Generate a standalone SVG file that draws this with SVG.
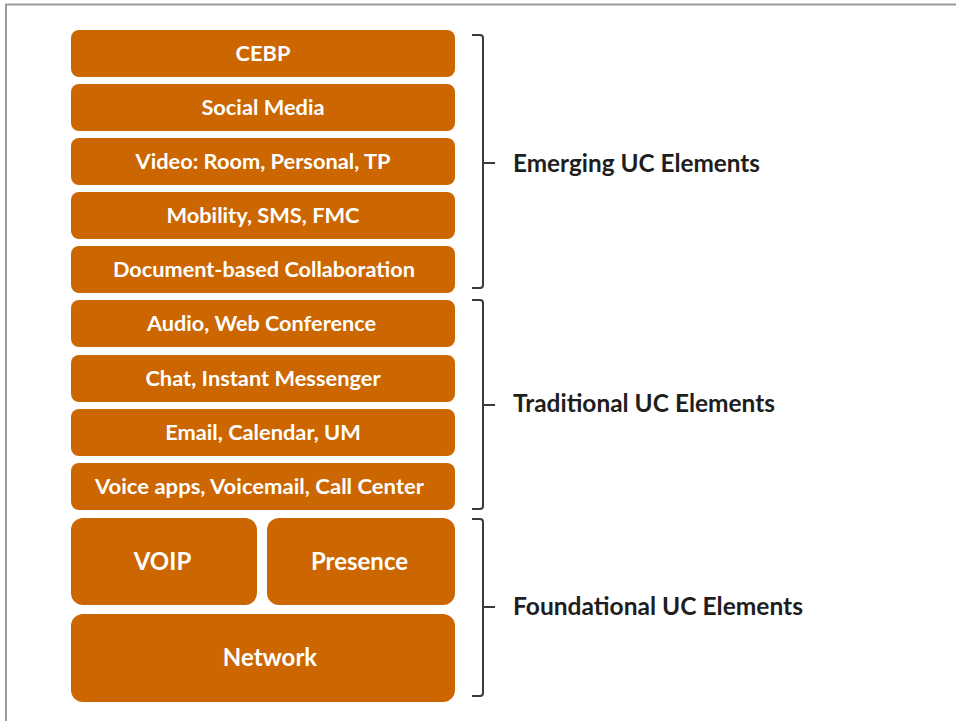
<svg xmlns="http://www.w3.org/2000/svg" width="956" height="721" viewBox="0 0 956 721">
<style>
.box{fill:#CC6600;}
.bt{font-family:Lato,"Open Sans","Liberation Sans",sans-serif;font-weight:bold;font-size:21.8px;fill:#FFFFFF;text-anchor:middle;}
.bb{font-size:24px;}
.lt{font-family:Lato,"Open Sans","Liberation Sans",sans-serif;font-weight:bold;font-size:24.4px;fill:#1E1E1E;}
.br{fill:none;stroke:#3A3A3A;stroke-width:2;}
</style>
<rect x="0" y="0" width="956" height="721" fill="#FFFFFF"/>
<path d="M6 721 V4.5 H956" fill="none" stroke="#9A9A9A" stroke-width="2"/>
<g id="n-cebp"><rect class="box" x="71" y="30" width="384" height="47" rx="8"/><text class="bt" x="263" y="61">CEBP</text></g>
<g id="n-social"><rect class="box" x="71" y="84" width="384" height="47" rx="8"/><text class="bt" x="263" y="115">Social Media</text></g>
<g id="n-video"><rect class="box" x="71" y="138" width="384" height="47" rx="8"/><text class="bt" x="263" y="169">Video: Room, Personal, TP</text></g>
<g id="n-mobility"><rect class="box" x="71" y="192" width="384" height="47" rx="8"/><text class="bt" x="263" y="223">Mobility, SMS, FMC</text></g>
<g id="n-document"><rect class="box" x="71" y="246" width="384" height="47" rx="8"/><text class="bt" x="264" y="277" textLength="302" lengthAdjust="spacingAndGlyphs">Document-based Collaboration</text></g>
<g id="n-audio"><rect class="box" x="71" y="300" width="384" height="47" rx="8"/><text class="bt" x="261.5" y="331" textLength="229" lengthAdjust="spacingAndGlyphs">Audio, Web Conference</text></g>
<g id="n-chat"><rect class="box" x="71" y="355" width="384" height="47" rx="8"/><text class="bt" x="263" y="386">Chat, Instant Messenger</text></g>
<g id="n-email"><rect class="box" x="71" y="409" width="384" height="47" rx="8"/><text class="bt" x="263" y="440">Email, Calendar, UM</text></g>
<g id="n-voice"><rect class="box" x="71" y="463" width="384" height="47" rx="8"/><text class="bt" x="259.5" y="494" textLength="329" lengthAdjust="spacingAndGlyphs">Voice apps, Voicemail, Call Center</text></g>
<g id="n-voip"><rect class="box" x="71" y="518" width="186" height="87" rx="12"/><text class="bt bb" x="162.5" y="570">VOIP</text></g>
<g id="n-presence"><rect class="box" x="267" y="518" width="188" height="87" rx="12"/><text class="bt bb" x="359.5" y="570">Presence</text></g>
<g id="n-network"><rect class="box" x="71" y="614" width="384" height="88" rx="12"/><text class="bt bb" x="270" y="666">Network</text></g>
<g id="connectors">
<path class="br" d="M472 35 H480 Q483 35 483 38 V285 Q483 288 480 288 H472 M483 163 H495"/>
<path class="br" d="M472 300 H480 Q483 300 483 303 V506 Q483 509 480 509 H472 M483 405 H495"/>
<path class="br" d="M472 519 H480 Q483 519 483 522 V693 Q483 696 480 696 H472 M483 607 H495"/>
</g>
<g id="n-emerging"><text class="lt" x="513" y="172" textLength="247" lengthAdjust="spacingAndGlyphs">Emerging UC Elements</text></g>
<g id="n-traditional"><text class="lt" x="513" y="412" textLength="262" lengthAdjust="spacingAndGlyphs">Traditional UC Elements</text></g>
<g id="n-foundational"><text class="lt" x="513" y="615" textLength="290" lengthAdjust="spacingAndGlyphs">Foundational UC Elements</text></g>
</svg>
